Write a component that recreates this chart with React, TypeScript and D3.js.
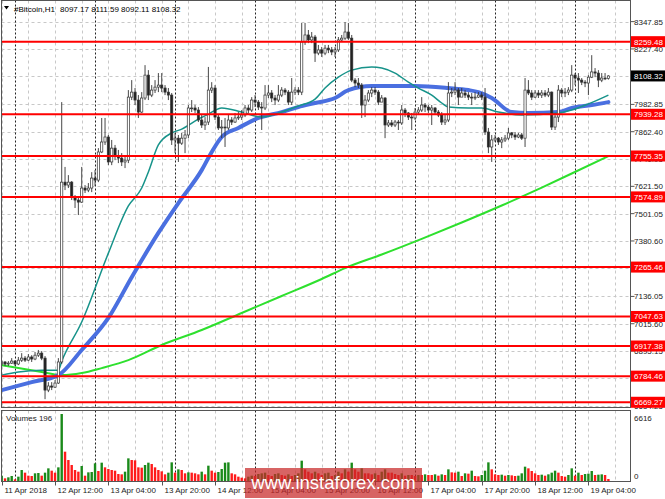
import React from 'react';
import * as d3 from 'd3';

// ---------- data (H1 candles, 11 Apr 2018 20:00 -> 19 Apr 2018 10:00) ----------
const symbol = '#Bitcoin,H1';
const firstOpen = 6838;
const lastOpen = 8097.17;
const closes = [
  6847,6838,6842,6851,6838,6855,6864,6855,6869,6860,
  6877,6886,6864,6723,6741,6736,6754,6847,7640,7627,
  7640,7574,7561,7552,7614,7605,7614,7658,7649,7773,
  7817,7839,7729,7790,7755,7746,7729,7737,8015,8037,
  8002,7949,8011,8112,8024,8046,8059,8068,8055,8037,
  8024,7826,7834,7812,7834,7848,7967,7967,7958,7914,
  7892,7905,8046,8055,7927,7879,7883,7879,7914,7905,
  7923,7927,7936,7967,7958,8002,7993,7971,7967,8024,
  8033,8011,8002,8024,8046,8037,7993,8037,8046,8037,
  8258,8289,8267,8280,8209,8223,8209,8231,8223,8214,
  8223,8267,8275,8302,8275,8090,8077,8068,7980,8002,
  8033,8046,8037,7993,8011,7892,7901,7892,7905,7901,
  7958,7945,7927,7923,7949,7958,7980,7971,7958,7967,
  7949,7936,7905,7914,8033,8037,8046,8015,8033,8024,
  8015,8011,8015,8024,8015,7861,7795,7826,7834,7817,
  7826,7834,7857,7848,7839,7848,7834,8046,8033,8015,
  8033,8024,8033,8024,8037,7883,7927,8046,8033,8037,
  8046,8112,8099,8090,8081,8077,8103,8126,8121,8090,
  8099,8097,8108.32,
];
const highs = [
  6855,6851,6851,6864,6855,6869,6886,6873,6882,6877,
  6891,6900,6895,6873,6758,6758,6767,6864,7993,7707,
  7671,7645,7583,7574,7707,7627,7636,7684,7693,7790,
  7923,7923,7848,7826,7804,7782,7768,7759,8046,8090,
  8055,8024,8037,8156,8134,8068,8090,8121,8121,8068,
  8055,8033,7857,7848,7857,7870,7980,8002,7980,7971,
  7936,7927,8148,8081,8068,7936,7914,7923,7936,7927,
  7945,7949,7958,7980,7980,8015,8024,8002,7993,8068,
  8068,8046,8024,8068,8059,8055,8046,8099,8059,8059,
  8342,8342,8311,8302,8289,8245,8236,8245,8245,8236,
  8236,8280,8289,8346,8342,8289,8099,8099,8077,8024,
  8046,8059,8059,8046,8024,8015,7914,7914,7914,7914,
  7980,7967,7949,7945,7967,7971,8015,7989,7980,7980,
  7971,7958,7949,7936,8081,8055,8081,8055,8055,8046,
  8037,8033,8037,8037,8037,8055,7879,7848,7848,7839,
  7839,7848,7879,7861,7861,7857,7857,8099,8090,8046,
  8046,8046,8046,8046,8055,8040,7945,8068,8055,8055,
  8059,8156,8121,8121,8099,8090,8112,8200,8143,8134,
  8121,8121,8111.59,
];
const lows = [
  6829,6829,6829,6838,6829,6833,6847,6847,6851,6847,
  6855,6869,6855,6683,6714,6723,6732,6750,6838,7605,
  7614,7561,7526,7495,7548,7592,7596,7596,7623,7640,
  7768,7804,7715,7715,7737,7724,7711,7702,7724,8002,
  7980,7923,7945,8002,8002,8015,8033,8037,8037,8024,
  8002,7804,7768,7729,7804,7768,7834,7949,7945,7905,
  7879,7870,7892,8033,7914,7870,7834,7795,7870,7892,
  7901,7914,7914,7927,7945,7949,7971,7958,7870,7958,
  8011,7993,7980,7993,8015,8024,7980,7980,8024,8024,
  8024,8245,8253,8253,8170,8200,8192,8200,8209,8200,
  8192,8214,8258,8267,8267,8081,8059,8055,7923,7927,
  7993,8015,8024,7980,7993,7834,7883,7883,7883,7870,
  7892,7927,7914,7870,7914,7936,7949,7949,7945,7892,
  7936,7927,7892,7892,7905,8015,8024,7980,8015,8011,
  8002,7980,8002,8011,8002,7848,7768,7729,7817,7804,
  7790,7817,7826,7834,7826,7834,7826,7795,8024,8002,
  8011,8011,8011,8015,8015,7870,7870,7905,8015,8015,
  8024,8037,8068,8033,8068,8059,8024,8099,8103,8059,
  8081,8090,8092.11,
];
const volumes = [
  526,263,362,494,165,428,1086,823,526,494,
  757,790,526,823,1250,1020,823,1349,6616,2895,
  2073,1579,1086,921,1481,526,855,888,1744,987,
  1810,1349,1184,1086,1020,691,658,921,2237,2073,
  2040,1349,1316,1579,1810,1678,1349,1086,954,658,
  823,1842,823,1151,1086,757,855,823,757,658,
  921,658,1513,1020,823,888,1184,1810,1842,757,
  658,428,329,263,428,526,494,691,757,823,
  592,494,691,757,592,526,658,494,592,757,
  2007,1151,921,757,921,757,592,757,823,494,
  592,921,757,1151,921,1810,1151,921,1250,757,
  757,658,757,592,921,1151,823,823,691,592,
  757,526,592,592,494,592,592,658,592,592,
  658,526,658,592,1151,855,823,921,494,757,
  724,1020,494,461,592,1020,1842,1151,658,592,
  625,526,592,559,494,526,757,1415,1250,987,
  757,592,625,526,658,823,1020,823,494,428,
  592,1250,526,823,592,691,724,987,592,625,
  658,592,196,
];
const volumeMax = 6616;

// moving averages (bar index, price)
const maFastBars = [0,5,12,17,18,24,32,38,42,44,47,51,54,59,62,66,72,78,84,89,94,97,101,105,111,114,118,122,125,129,132,134,140,144,149,156,167,171,176,182];
const maFastVals = [6789,6803,6811,6811,6850,7023,7327,7535,7614,7685,7804,7857,7874,7918,7940,7967,7949,7927,7949,7976,8006,8055,8103,8134,8148,8143,8121,8081,8055,8024,7989,7971,7967,7967,7949,7936,7945,7958,7985,8024];
const maMidBars = [0,9,17,24,32,39,47,53,60,63,66,71,77,84,89,94,100,104,111,124,134,140,143,147,153,158,167,171,177,182];
const maMidVals = [6723,6758,6789,6900,7041,7221,7416,7548,7693,7773,7839,7879,7923,7949,7971,7989,8011,8046,8064,8064,8055,8046,8037,8011,7949,7945,7949,7967,7980,7993];
const maSlowBars = [0,5,12,18,24,30,38,48,60,72,84,96,103,114,126,138,150,162,171,182];
const maSlowVals = [6833,6820,6803,6789,6798,6820,6855,6922,6988,7063,7138,7213,7261,7321,7390,7462,7537,7616,7678,7755];

const levels = [8259.48, 7939.28, 7755.35, 7574.89, 7265.46, 7047.63, 6917.38, 6784.46, 6669.27];
const priceTicks = ['8347.85','8227.40','8106.95','7982.85','7862.40','7741.95','7621.50','7501.05','7380.60','7260.15','7136.05','7015.60','6895.15','6774.70','6654.25'];
const timeLabels = ['11 Apr 2018','12 Apr 12:00','13 Apr 04:00','13 Apr 20:00','14 Apr 12:00','15 Apr 04:00','15 Apr 20:00','16 Apr 12:00','17 Apr 04:00','17 Apr 20:00','18 Apr 12:00','19 Apr 04:00'];
const startTime = new Date(2018, 3, 11, 20, 0);

const FONT = '"Liberation Sans", Arial, sans-serif';

export default function App() {
  const n = closes.length;
  const L = 1.5, R = 630.5;
  const mainTop = 0.5, mainBottom = 407.5, volTop = 410.5, volBottom = 481.5;
  const endTime = d3.timeHour.offset(startTime, n - 1);
  const xt = d3.scaleTime().domain([startTime, endTime]).range([1.7, 608.4]);
  const x = (i: number) => xt(d3.timeHour.offset(startTime, i));
  const y = d3.scaleLinear().domain([6642.7, 8430]).range([408.3, 3]);
  const yv = d3.scaleLinear().domain([0, volumeMax]).range([481, 414]);

  const opens = closes.map((c, i) => (i === 0 ? firstOpen : i === n - 1 ? lastOpen : closes[i - 1]));

  const line = d3.line<[number, number]>().x(d => x(d[0])).y(d => y(d[1])).curve(d3.curveMonotoneX);
  const pts = (b: number[], v: number[]) => b.map((bi, k) => [bi, v[k]] as [number, number]);

  const gridTimes = d3.timeHour.range(startTime, d3.timeHour.offset(endTime, 10), 8);
  const dayTimes = d3.timeDay.range(startTime, d3.timeHour.offset(endTime, 10));
  const labelTimes = d3.timeHour.range(startTime, d3.timeHour.offset(endTime, 10), 16).slice(0, timeLabels.length);

  const bw = 2.2;
  const last = closes[n - 1];
  const boxed = [...levels, last];
  const hiddenTick = (t: string) => boxed.some(b => Math.abs(y(b) - y(+t)) < 1);

  return (
    <svg width={665} height={499} style={{ position: 'absolute', left: 0, top: 0, background: '#fff' }} fontFamily={FONT}>
      <defs>
        <clipPath id="mainClip"><rect x={L} y={mainTop} width={R - L} height={mainBottom - mainTop} /></clipPath>
        <clipPath id="volClip"><rect x={L} y={volTop} width={R - L} height={volBottom - volTop} /></clipPath>
      </defs>
      <rect x={0} y={0} width={665} height={499} fill="#fff" />

      {priceTicks.map(t => (
        <line key={'hg' + t} x1={L} x2={R} y1={Math.round(y(+t)) + 0.5} y2={Math.round(y(+t)) + 0.5} stroke="#c8c8c8" strokeDasharray="3,3" strokeWidth={1} />
      ))}
      {gridTimes.map((t, k) => {
        const xx = Math.round(xt(t)) + 0.5;
        return (
          <g key={'vg' + k}>
            <line x1={xx} x2={xx} y1={mainTop} y2={mainBottom} stroke="#c8c8c8" strokeDasharray="3,3" />
            <line x1={xx} x2={xx} y1={volTop} y2={volBottom} stroke="#c8c8c8" strokeDasharray="3,3" />
          </g>
        );
      })}
      {dayTimes.map((t, k) => {
        const xx = Math.round(xt(t)) + 0.5;
        return (
          <g key={'ds' + k}>
            <line x1={xx} x2={xx} y1={mainTop} y2={mainBottom} stroke="#222" strokeDasharray="2,2" />
            <line x1={xx} x2={xx} y1={volTop} y2={volBottom} stroke="#222" strokeDasharray="2,2" />
          </g>
        );
      })}

      <g clipPath="url(#mainClip)">
        <path d={line(pts(maSlowBars, maSlowVals)) || ''} fill="none" stroke="#2ee02e" strokeWidth={2} />
        <path d={line(pts(maMidBars, maMidVals)) || ''} fill="none" stroke="#4a6fe0" strokeWidth={4} strokeLinecap="round" />
        <path d={line(pts(maFastBars, maFastVals)) || ''} fill="none" stroke="#17938a" strokeWidth={1.5} />

        {closes.map((c, i) => {
          const o = opens[i];
          const xx = x(i);
          const top = y(Math.max(o, c));
          const bot = y(Math.min(o, c));
          const up = c >= o;
          return (
            <g key={'c' + i}>
              <line x1={xx} x2={xx} y1={y(highs[i])} y2={y(lows[i])} stroke="#333" strokeWidth={0.9} />
              <rect x={xx - bw / 2} y={top} width={bw} height={Math.max(bot - top, 0.8)} fill={up ? '#fff' : '#222'} stroke="#333" strokeWidth={0.7} />
            </g>
          );
        })}

        {levels.map(lv => (
          <line key={'lv' + lv} x1={L} x2={R} y1={y(lv)} y2={y(lv)} stroke="#ff0000" strokeWidth={2} />
        ))}
      </g>

      <g clipPath="url(#volClip)">
        {volumes.map((v, i) => {
          const up = i === 0 || v > volumes[i - 1];
          return <rect key={'v' + i} x={x(i) - 1.2} y={yv(v)} width={2.4} height={yv(0) - yv(v)} fill={up ? '#1a8a1a' : '#ff1a1a'} />;
        })}
      </g>

      <rect x={L} y={mainTop} width={R - L} height={mainBottom - mainTop} fill="none" stroke="#555" strokeWidth={1} />
      <rect x={L} y={volTop} width={R - L} height={volBottom - volTop} fill="none" stroke="#555" strokeWidth={1} />

      <path d="M4,6 L9,6 L6.5,9.5 Z" fill="#000" />
      <text x={14} y={12} fontSize={8} fill="#000">{symbol}</text>
      <text x={60} y={12} fontSize={8} fill="#000">{`${opens[n - 1].toFixed(2)} ${highs[n - 1].toFixed(2)} ${lows[n - 1].toFixed(2)} ${last.toFixed(2)}`}</text>

      {priceTicks.map(t => (
        <g key={'pt' + t}>
          <line x1={R} x2={R + 4} y1={y(+t)} y2={y(+t)} stroke="#555" />
          {!hiddenTick(t) && <text x={634} y={y(+t) + 3} fontSize={8} fill="#222">{t}</text>}
        </g>
      ))}
      {levels.map(lv => (
        <g key={'lb' + lv}>
          <rect x={631} y={y(lv) - 5.5} width={34} height={11} fill="#ff0000" />
          <text x={634} y={y(lv) + 3} fontSize={8} fill="#fff">{lv.toFixed(2)}</text>
        </g>
      ))}
      <rect x={631} y={y(last) - 5.5} width={34} height={11} fill="#000" />
      <text x={634} y={y(last) + 3} fontSize={8} fill="#fff">{last.toFixed(2)}</text>

      <text x={6} y={421} fontSize={8} fill="#222">{`Volumes ${volumes[n - 1]}`}</text>
      <text x={634} y={421} fontSize={8} fill="#222">{volumeMax}</text>
      <text x={634} y={479} fontSize={8} fill="#222">0</text>

      {labelTimes.map((t, k) => {
        const xx = Math.round(xt(t)) + 0.5;
        return (
          <g key={'tl' + k}>
            <line x1={xx} x2={xx} y1={volBottom} y2={volBottom + 4} stroke="#555" />
            <text x={xx + 2} y={493} fontSize={8} fill="#222">{timeLabels[k]}</text>
          </g>
        );
      })}

      <rect x={245} y={468} width={177} height={30} fill="rgb(200,40,40)" opacity={0.72} />
      <text x={333.5} y={489} fontSize={18.5} fill="#fff" textAnchor="middle">www.instaforex.com</text>
    </svg>
  );
}
